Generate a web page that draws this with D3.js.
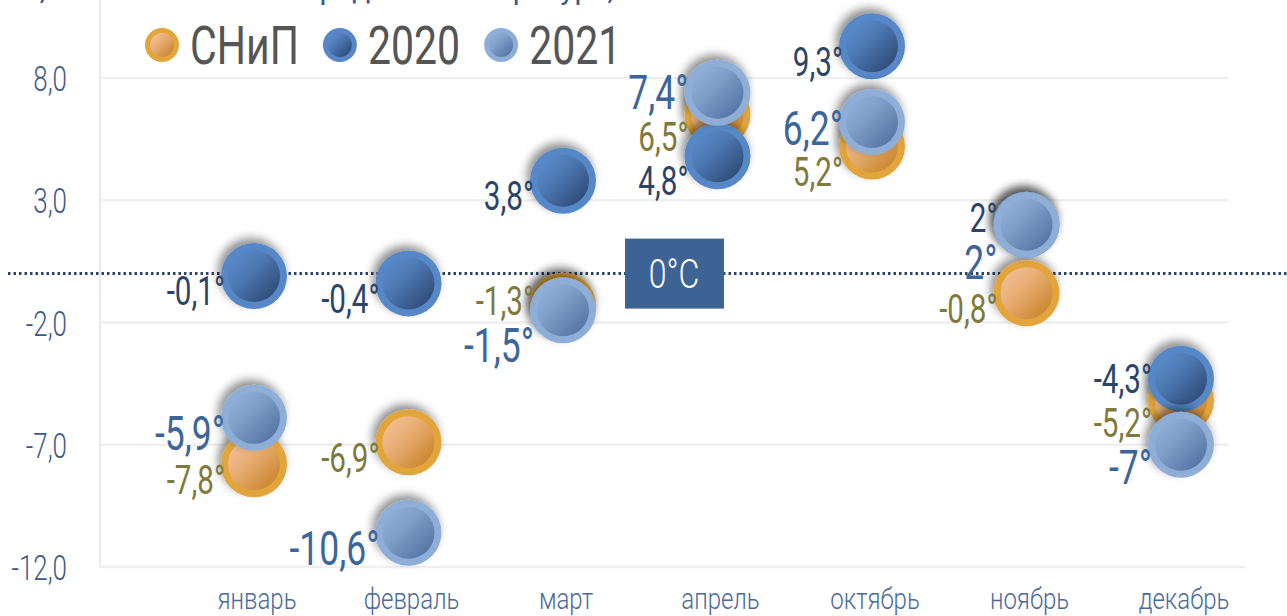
<!DOCTYPE html>
<html>
<head>
<meta charset="utf-8">
<script src="https://cdn.jsdelivr.net/npm/d3@7"></script>
<style>
  body { margin: 0; background: #fff; }
  svg { display: block; font-family: Roboto, "Noto Sans", sans-serif; }
</style>
</head>
<body>
<script>
// data
var months = ["январь", "февраль", "март", "апрель", "октябрь", "ноябрь", "декабрь"];
var snip = [-7.8, -6.9, -1.3, 6.5, 5.2, -0.8, -5.2];
var t2020 = [-0.1, -0.4, 3.8, 4.8, 9.3, 2, -4.3];
var t2021 = [-5.9, -10.6, -1.5, 7.4, 6.2, 2, -7];
var seriesNames = ["СНиП", "2020", "2021"];
var yTicks = [-12, -7, -2, 3, 8];

var W = 1287, H = 616, R = 33, r = 26;

// look of each series
var look = [
  {ring: "#e2a53a", light: "#f7c49c", dark: "#c47c1c", label: "#7d7a3c", size: 40},
  {ring: "#5787c6", light: "#5d91d2", dark: "#27416b", label: "#2b4468", size: 40},
  {ring: "#8eaed8", light: "#95b4dc", dark: "#4a6c9c", label: "#3c659c", size: 48}
];

var series = [snip, t2020, t2021];

var svg = d3.select("body").append("svg")
    .attr("width", W)
    .attr("height", H);

var defs = svg.append("defs");
var sh = defs.append("filter").attr("id", "shadow")
    .attr("x", "-60%").attr("y", "-60%").attr("width", "220%").attr("height", "220%");
sh.append("feDropShadow")
    .attr("dx", -3).attr("dy", -5).attr("stdDeviation", 5)
    .attr("flood-color", "#000").attr("flood-opacity", 0.45);

look.forEach(function(l, i) {
  var g = defs.append("linearGradient").attr("id", "grad" + i)
      .attr("x1", 0).attr("y1", 0).attr("x2", 1).attr("y2", 1);
  g.append("stop").attr("offset", "0%").attr("stop-color", l.light);
  g.append("stop").attr("offset", "40%").attr("stop-color", d3.interpolateRgb(l.light, l.dark)(0.3));
  g.append("stop").attr("offset", "100%").attr("stop-color", l.dark);
});

var x = d3.scalePoint().domain(months).range([254, 1181]);
var y = d3.scaleLinear().domain([-12, 8]).range([567, 78]);

var ru = d3.formatLocale({decimal: ",", thousands: " ", grouping: [3], currency: ["", ""], minus: "-"});
var fmt = function(v) { return String(v).replace(".", ","); };

// cut-off title bits at the very top
svg.append("text").attr("x", 30).attr("y", -1)
    .attr("font-size", 30).attr("fill", "#3d5a85").text("t,°C");
svg.append("text").attr("x", 300).attr("y", -1)
    .attr("font-size", 30).attr("fill", "#3d5a85").text("Средняя температура, °С");

// grid
svg.append("g").selectAll("line")
    .data(yTicks)
    .enter().append("line")
    .attr("x1", 100)
    .attr("x2", function(d) { return d === -12 ? 1245 : 1228; })
    .attr("y1", function(d) { return y(d); })
    .attr("y2", function(d) { return y(d); })
    .attr("stroke", "#efefef")
    .attr("stroke-width", 2.5);

svg.append("line")
    .attr("x1", 100).attr("x2", 100)
    .attr("y1", 0).attr("y2", y(-12))
    .attr("stroke", "#e3e3e3")
    .attr("stroke-width", 1.5);

// y axis
var yAxis = svg.append("g")
    .attr("transform", "translate(67,0)")
    .call(d3.axisLeft(y).tickValues(yTicks).tickSize(0).tickPadding(0)
      .tickFormat(ru.format(".1f")));
yAxis.select(".domain").remove();
yAxis.selectAll("text")
    .attr("x", 0)
    .attr("dy", "0.35em")
    .attr("font-family", "Roboto")
    .attr("font-weight", 300)
    .attr("font-size", 36)
    .attr("fill", "#3d5a85")
    .attr("transform", "scale(0.72,1)");

// zero line
svg.append("line")
    .attr("x1", 8).attr("x2", W)
    .attr("y1", y(0)).attr("y2", y(0))
    .attr("stroke", "#2b4468")
    .attr("stroke-width", 3)
    .attr("stroke-dasharray", "2.5,3");

svg.append("rect")
    .attr("x", 625).attr("y", y(0) - 35)
    .attr("width", 99).attr("height", 70)
    .attr("fill", "#3d6394");
svg.append("text")
    .attr("transform", "translate(674," + y(0) + ") scale(0.8,1)")
    .attr("text-anchor", "middle")
    .attr("dy", "0.36em")
    .attr("font-weight", 300)
    .attr("font-size", 40)
    .attr("fill", "#fff")
    .text("0°C");

// month labels
svg.append("g").selectAll("text")
    .data(months)
    .enter().append("text")
    .attr("transform", function(d) { return "translate(" + (x(d) + 3) + ",609) scale(0.8,1)"; })
    .attr("text-anchor", "middle")
    .attr("font-weight", 300)
    .attr("font-size", 30)
    .attr("fill", "#4a6a9a")
    .text(function(d) { return d; });

// points
var pts = [];
series.forEach(function(vals, si) {
  vals.forEach(function(v, i) {
    pts.push({si: si, m: months[i], v: v});
  });
});

function bubble(sel, rr, ri) {
  sel.append("circle").attr("r", rr)
      .attr("fill", function(d) { return look[d.si].ring; })
      .attr("filter", "url(#shadow)");
  sel.append("circle").attr("r", ri)
      .attr("fill", function(d) { return "url(#grad" + d.si + ")"; });
}

var b = svg.append("g").selectAll("g")
    .data(pts)
    .enter().append("g")
    .attr("transform", function(d) { return "translate(" + x(d.m) + "," + y(d.v) + ")"; });
bubble(b, R, r);

// label placement: push labels apart inside each month
var gap = 44;
months.forEach(function(m) {
  var items = pts.filter(function(p) { return p.m === m; })
      .map(function(p) { p.ly = y(p.v) + 15; return p; })
      .sort(function(a, b) { return (a.ly - b.ly) || (a.si === 0) - (b.si === 0) || a.si - b.si; });
  var clusters = [];
  items.forEach(function(it) {
    clusters.push({items: [it], mean: it.ly});
    while (clusters.length > 1) {
      var c = clusters[clusters.length - 1], p = clusters[clusters.length - 2];
      var pBottom = p.mean + (p.items.length - 1) / 2 * gap;
      var cTop = c.mean - (c.items.length - 1) / 2 * gap;
      if (cTop - pBottom >= gap) break;
      var all = p.items.concat(c.items);
      clusters.pop(); clusters.pop();
      clusters.push({items: all, mean: d3.mean(all, function(q) { return q.ly; })});
    }
  });
  clusters.forEach(function(c) {
    c.items.forEach(function(it, k) {
      it.lpos = c.mean + (k - (c.items.length - 1) / 2) * gap;
    });
  });
});

svg.append("g").selectAll("text")
    .data(pts)
    .enter().append("text")
    .attr("transform", function(d) {
      return "translate(" + (x(d.m) - R + 4) + "," + d.lpos + ") scale(0.74,1)";
    })
    .attr("text-anchor", "end")
    .attr("dy", "0.36em")
    .attr("font-size", function(d) { return look[d.si].size; })
    .attr("fill", function(d) { return look[d.si].label; })
    .text(function(d) { return fmt(d.v) + "°"; });

// legend
var lg = svg.append("g").attr("transform", "translate(0,45)");
var cursor = 145;
seriesNames.forEach(function(name, si) {
  var item = lg.append("g").datum({si: si});
  item.attr("transform", "translate(" + (cursor + 17) + ",0)");
  bubble(item, 17, 12);
  item.selectAll("circle").attr("filter", null);
  var t = item.append("text")
      .attr("transform", "translate(28,0) scale(0.76,1)")
      .attr("dy", "0.36em")
      .attr("font-size", 54)
      .attr("fill", "#555")
      .text(name);
  var w = t.node().getComputedTextLength() * 0.76;
  cursor += 17 + 28 + w + 24;
});
</script>
</body>
</html>
